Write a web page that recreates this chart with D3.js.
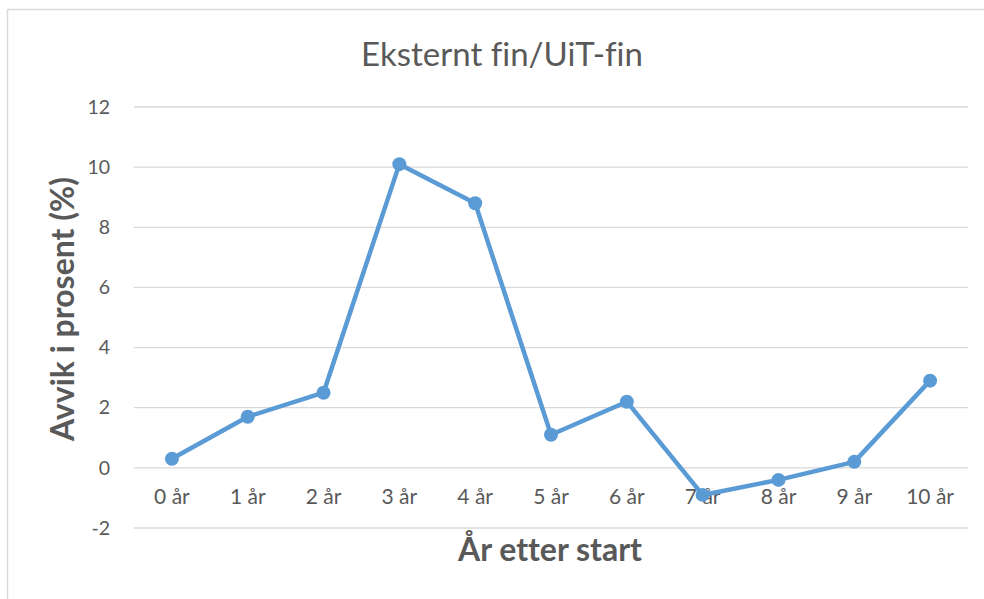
<!DOCTYPE html>
<html><head><meta charset="utf-8">
<script src="https://cdn.jsdelivr.net/npm/d3@7"></script>
<style>body{margin:0;background:#fff}svg{display:block}text{font-variant-ligatures:none;font-feature-settings:"liga" 0}</style>
</head><body>
<svg id="c" width="984" height="599"></svg>
<script>
const categories = ["0 år","1 år","2 år","3 år","4 år","5 år","6 år","7 år","8 år","9 år","10 år"];
const values = [0.3, 1.7, 2.5, 10.1, 8.8, 1.1, 2.2, -0.9, -0.4, 0.2, 2.9];
const yTicks = [-2, 0, 2, 4, 6, 8, 10, 12];
const title = "Eksternt fin/UiT-fin";
const xTitle = "År etter start";
const yTitle = "Avvik i prosent (%)";

const svg = d3.select("#c");
const font = "Lato, 'Open Sans', sans-serif";
// chart frame
svg.append("rect").attr("x",7.5).attr("y",9.5).attr("width",990).attr("height",600)
  .attr("fill","#fff").attr("stroke","#d9d9d9").attr("stroke-width",1.5);

const x = d3.scaleBand().domain(categories).range([134, 968]);
const y = d3.scaleLinear().domain([-2, 12]).range([528, 107]);

const g = svg.append("g");
g.selectAll("line.grid").data(yTicks).enter().append("line")
  .attr("x1",134).attr("x2",968).attr("y1",d=>y(d)).attr("y2",d=>y(d))
  .attr("stroke","#d9d9d9").attr("stroke-width",1.3);

const yAxis = d3.axisLeft(y).tickValues(yTicks).tickFormat(d=>String(d)).tickSize(0).tickPadding(24);
const ya = svg.append("g").attr("transform","translate(134,0)").call(yAxis);
ya.select(".domain").remove();
ya.selectAll("text").attr("font-family",font).attr("font-size",19.5).attr("fill","#595959");

const xAxis = d3.axisBottom(x).tickSize(0).tickPadding(21);
const xa = svg.append("g").attr("transform",`translate(0,${y(0)})`).call(xAxis);
xa.select(".domain").remove();
xa.selectAll("text").attr("font-family",font).attr("font-size",21).attr("fill","#595959");

const cx = d => x(d) + x.bandwidth()/2;
const line = d3.line().x((d,i)=>cx(categories[i])).y(d=>y(d));
svg.append("path").datum(values).attr("d",line).attr("fill","none")
  .attr("stroke","#5B9BD5").attr("stroke-width",4.5).attr("stroke-linejoin","round");
svg.selectAll("circle.pt").data(values).enter().append("circle")
  .attr("cx",(d,i)=>cx(categories[i])).attr("cy",d=>y(d)).attr("r",7)
  .attr("fill","#5B9BD5");

svg.append("text").attr("x",502).attr("y",66).attr("text-anchor","middle")
  .attr("font-family",font).attr("font-size",33).attr("fill","#595959").text(title);
svg.append("text").attr("x",550).attr("y",561).attr("text-anchor","middle")
  .attr("font-family",font).attr("font-size",32).attr("font-weight","bold").attr("fill","#595959").text(xTitle);
svg.append("text").attr("transform","translate(74,309) rotate(-90)").attr("text-anchor","middle")
  .attr("font-family",font).attr("font-size",32).attr("font-weight","bold").attr("fill","#595959").text(yTitle);
</script>
</body></html>
